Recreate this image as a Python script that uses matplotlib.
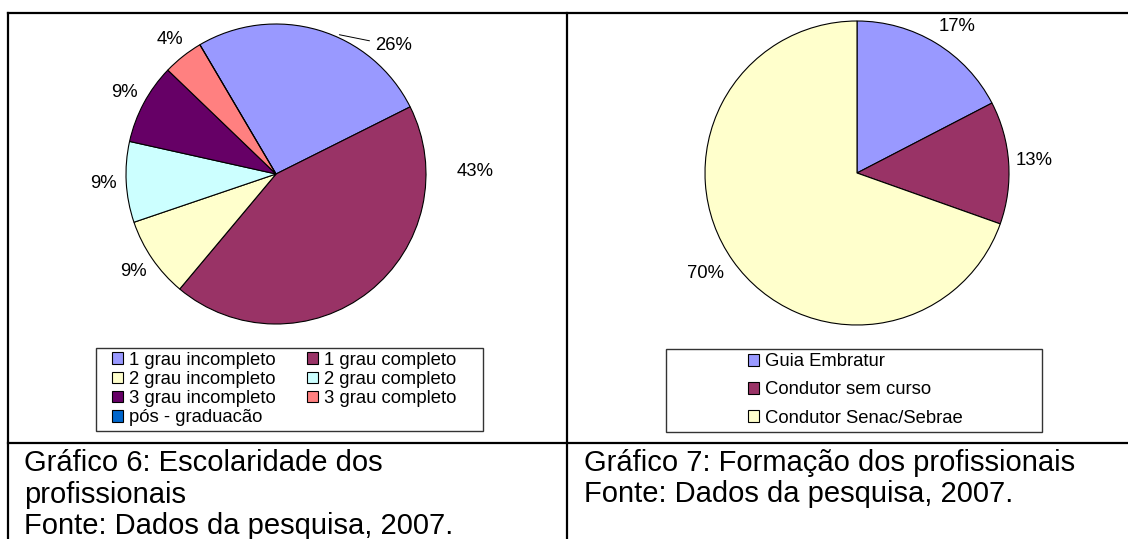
import numpy as np
import matplotlib
matplotlib.use("Agg")
import matplotlib.pyplot as plt
from matplotlib.lines import Line2D
from matplotlib.patches import Rectangle

plt.rcParams['font.family'] = ['Liberation Sans', 'DejaVu Sans']

# dados - gráfico 6 (escolaridade)
esc_labels = ['1 grau incompleto', '1 grau completo', '2 grau incompleto',
              '2 grau completo', '3 grau incompleto', '3 grau completo',
              'pós - graduacão']
esc_values = [6, 10, 2, 2, 2, 1, 0]
esc_colors = ['#9999FF', '#993366', '#FFFFCC', '#CCFFFF', '#660066', '#FF8080', '#0066CC']

# dados - gráfico 7 (formação)
form_labels = ['Guia Embratur', 'Condutor sem curso', 'Condutor Senac/Sebrae']
form_values = [4, 3, 16]
form_colors = ['#9999FF', '#993366', '#FFFFCC']

W, H = 1128, 539
fig = plt.figure(figsize=(W / 100, H / 100), dpi=100)


def fx(x):
    return x / W


def fy(y):
    # y medido a partir do topo, em pixels
    return 1 - y / H


def pie_axes(cx, cy, r):
    ax = fig.add_axes([fx(cx - r), fy(cy + r), 2 * r / W, 2 * r / H])
    return ax


def draw_pie(ax, values, colors, start, lab_shift, lab_r, leader=None):
    wedges, _ = ax.pie(values, colors=colors, startangle=start, counterclock=False,
                       radius=1.0, center=(0, 0), frame=False,
                       wedgeprops=dict(edgecolor='black', linewidth=0.8))
    # pie() muda os limites, fixa de novo
    ax.set_xlim(-1, 1)
    ax.set_ylim(-1, 1)
    ax.axis('off')
    total = float(sum(values))
    for i, (w, v) in enumerate(zip(wedges, values)):
        if v == 0:
            continue
        mid = np.deg2rad((w.theta1 + w.theta2) / 2 + lab_shift[i])
        r = lab_r[i]
        txt = '{:.0f}%'.format(100 * v / total)
        pos = (r * np.cos(mid), r * np.sin(mid))
        if leader is not None and leader[0] == i:
            a = np.deg2rad((w.theta1 + w.theta2) / 2 + leader[1])
            ax.annotate(txt, xy=(1.02 * np.cos(a), 1.02 * np.sin(a)), xytext=pos,
                        ha='center', va='center', fontsize=13.3,
                        arrowprops=dict(arrowstyle='-', lw=0.7, color='black',
                                        shrinkA=2, shrinkB=0))
        else:
            ax.text(pos[0], pos[1], txt, ha='center', va='center', fontsize=13.3)
    return wedges


# gráfico 6
ax1 = pie_axes(276, 174, 150)
w1 = draw_pie(ax1, esc_values, esc_colors, 120.5,
              lab_shift=[-26, 52.3, 0, 0, 0, 0, 0],
              lab_r=[1.16, 1.33, 1.15, 1.15, 1.15, 1.14, 1.15],
              leader=(0, -8))

# gráfico 7
ax2 = pie_axes(857, 173, 152)
w2 = draw_pie(ax2, form_values, form_colors, 90,
              lab_shift=[-3, 0, -1.6], lab_r=[1.17, 1.17, 1.2])

# legendas (ordem por linhas como no Excel)
order = [0, 2, 4, 6, 1, 3, 5]
fig.add_artist(Rectangle((fx(96), fy(431)), (483 - 96) / W, (431 - 348) / H,
                         transform=fig.transFigure, fill=False,
                         edgecolor='#333333', lw=1))
fig.legend([w1[i] for i in order], [esc_labels[i] for i in order], ncol=2,
           loc='center', bbox_to_anchor=(fx(284), fy(389)), frameon=False,
           fontsize=13.3, handlelength=0.6, handleheight=0.6, handletextpad=0.33,
           columnspacing=1.7, labelspacing=0.12, borderpad=0, borderaxespad=0)

fig.add_artist(Rectangle((fx(666), fy(432)), (1042 - 666) / W, (432 - 349) / H,
                         transform=fig.transFigure, fill=False,
                         edgecolor='#333333', lw=1))
fig.legend(w2, form_labels, ncol=1, loc='center',
           bbox_to_anchor=(fx(855), fy(390)), frameon=False,
           fontsize=13.3, handlelength=0.6, handleheight=0.6, handletextpad=0.33,
           labelspacing=0.6, borderpad=0, borderaxespad=0)

# bordas da tabela
lw = 1.6
for xs, ys in [((8, W), (13, 13)), ((8, 8), (13, H)), ((567, 567), (13, H)),
               ((8, W), (443, 443))]:
    fig.add_artist(Line2D([fx(x) for x in xs], [fy(y) for y in ys],
                          transform=fig.transFigure, color='black', lw=lw,
                          solid_capstyle='projecting'))

# legendas das figuras
cap = 21
fig.text(fx(24), fy(471), 'Gráfico 6: Escolaridade dos', fontsize=cap, va='baseline')
fig.text(fx(24), fy(503), 'profissionais', fontsize=cap, va='baseline')
fig.text(fx(24), fy(534.5), 'Fonte: Dados da pesquisa, 2007.', fontsize=cap, va='baseline')
fig.text(fx(583.5), fy(471), 'Gráfico 7: Formação dos profissionais', fontsize=cap, va='baseline')
fig.text(fx(583.5), fy(502.5), 'Fonte: Dados da pesquisa, 2007.', fontsize=cap, va='baseline')

fig.savefig('out.png', dpi=100)
